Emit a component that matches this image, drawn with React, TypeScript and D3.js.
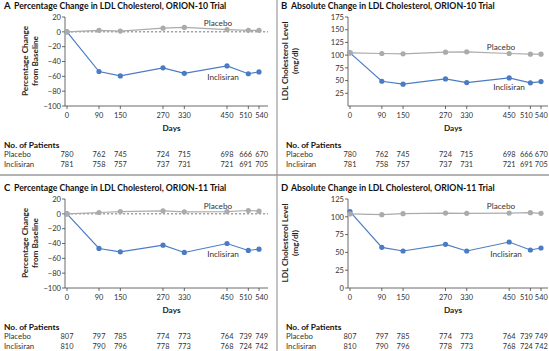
import React from "react";
import * as d3 from "d3";

const days = [0, 90, 150, 270, 330, 450, 510, 540];

const pctPlacebo10 = [0, 2, 1, 5, 6, 3, 2, 2];
const pctInclisiran10 = [0, -53.5, -59.5, -48.5, -56, -46, -56.5, -54];
const absPlacebo10 = [104.5, 103.2, 102.6, 105.8, 106.5, 103.2, 102, 102];
const absInclisiran10 = [104.5, 48.7, 43, 53.2, 46, 55.2, 45.5, 48];

const pctPlacebo11 = [0, 1.8, 3.1, 4, 2.7, 3, 4.5, 3.6];
const pctInclisiran11 = [0, -46.7, -51.2, -42.2, -52.1, -40, -49.4, -47.6];
const absPlacebo11 = [104, 103, 104.4, 105.3, 104.9, 105.3, 105.8, 104.9];
const absInclisiran11 = [107.2, 57.1, 52, 61.3, 52, 64.6, 53.4, 56.2];

const nPlacebo10 = [780, 762, 745, 724, 715, 698, 666, 670];
const nInclisiran10 = [781, 758, 757, 737, 731, 721, 691, 705];
const nPlacebo11 = [807, 797, 785, 774, 773, 764, 739, 749];
const nInclisiran11 = [810, 790, 796, 778, 773, 768, 724, 742];

const pctTicks = [20, 0, -20, -40, -60, -80, -100];
const absTicks10 = [25, 50, 75, 100, 125, 150, 175];
const absTicks11 = [0, 25, 50, 75, 100, 125];

const BLUE = "#4b7cc3";
const GRAY = "#ababab";
const FONT = "Lato, 'Open Sans', sans-serif";

type PanelProps = {
  ox: number;
  oy: number;
  letter: string;
  title: string;
  yLabel: string[];
  yDomain: [number, number];
  yTicks: number[];
  x0: number;
  x1: number;
  axisEnd: number;
  yLabelX: number;
  placebo: number[];
  inclisiran: number[];
  nPlacebo: number[];
  nInclisiran: number[];
  dashedZero: boolean;
  placeboLabel: [number, number];
  inclisiranLabel: [number, number];
};

const fmt = (v: number) => (v < 0 ? "\u2212" + Math.abs(v) : String(v));

function Panel(p: PanelProps) {
  const x = d3.scaleLinear().domain([0, 540]).range([p.x0, p.x1]);
  const y = d3.scaleLinear().domain(p.yDomain).range([106, 17]);
  const line = d3
    .line<number>()
    .x((_, i) => x(days[i]))
    .y((v) => y(v));
  const yTop = y(d3.max(p.yTicks) as number);
  const yBot = 106;
  const leftX = p.x0 - 2;
  const right = p.ox > 0;
  const tx = right ? 11 : 4;
  // small nudge so the crowded last two columns (510, 540) do not collide
  const nudge = (i: number) =>
    i === 6 ? (right ? -4 : -2.6) : i === 7 ? (right ? 0.3 : 2.6) : 0;
  return (
    <g transform={`translate(${p.ox},${p.oy})`} fontFamily={FONT}>
      <text x={right ? 6 : 4} y={9} fontSize={9.5} fontWeight={700} fill="#111">
        {p.letter}
      </text>
      <text x={right ? 16 : 14} y={9} fontSize={8.7} fontWeight={700} fill="#111">
        {p.title}
      </text>
      {p.yLabel.map((t, i) => (
        <text
          key={i}
          transform={`translate(${p.yLabelX + i * 10},61) rotate(-90)`}
          textAnchor="middle"
          fontSize={8.2}
          fontWeight={700}
          fill="#222"
        >
          {t}
        </text>
      ))}
      <line x1={leftX} x2={leftX} y1={yTop} y2={yBot} stroke="#444" strokeWidth={0.8} />
      {p.yTicks.map((t) => (
        <g key={t}>
          <line x1={leftX - 3} x2={leftX} y1={y(t)} y2={y(t)} stroke="#444" strokeWidth={0.8} />
          <text x={leftX - 4} y={y(t) + 2.7} textAnchor="end" fontSize={7.6} fill="#333">
            {fmt(t)}
          </text>
        </g>
      ))}
      <line x1={leftX} x2={p.axisEnd} y1={yBot} y2={yBot} stroke="#444" strokeWidth={0.8} />
      {days.map((d, i) => (
        <g key={d}>
          <line x1={x(d)} x2={x(d)} y1={yBot} y2={yBot + 3} stroke="#444" strokeWidth={0.8} />
          <text x={x(d) + nudge(i)} y={yBot + 12} textAnchor="middle" fontSize={7.4} fill="#333">
            {d}
          </text>
        </g>
      ))}
      <text x={(p.x0 + p.axisEnd) / 2 + 4} y={131} textAnchor="middle" fontSize={8.2} fontWeight={700} fill="#222">
        Days
      </text>
      {p.dashedZero && (
        <line x1={x(0)} x2={p.axisEnd} y1={y(0)} y2={y(0)} stroke="#555" strokeWidth={0.8} strokeDasharray="2.2,1.8" />
      )}
      <path d={line(p.inclisiran) || ""} fill="none" stroke={BLUE} strokeWidth={1.2} />
      {p.inclisiran.map((v, i) => (
        <circle key={i} cx={x(days[i])} cy={y(v)} r={2.6} fill={BLUE} />
      ))}
      <path d={line(p.placebo) || ""} fill="none" stroke={GRAY} strokeWidth={1.2} />
      {p.placebo.map((v, i) => (
        <circle key={i} cx={x(days[i])} cy={y(v)} r={2.6} fill={GRAY} />
      ))}
      <text x={p.placeboLabel[0]} y={p.placeboLabel[1]} textAnchor="middle" fontSize={8.2} fill="#333">
        Placebo
      </text>
      <text x={p.inclisiranLabel[0]} y={p.inclisiranLabel[1]} textAnchor="middle" fontSize={8.2} fill="#333">
        Inclisiran
      </text>
      <text x={tx} y={147.5} fontSize={8.4} fontWeight={700} fill="#111">
        No. of Patients
      </text>
      <text x={tx} y={157} fontSize={7.8} fill="#333">
        Placebo
      </text>
      <text x={tx} y={166.5} fontSize={7.8} fill="#333">
        Inclisiran
      </text>
      {p.nPlacebo.map((n, i) => (
        <text key={"p" + i} x={x(days[i]) + nudge(i)} y={157} textAnchor="middle" fontSize={7.4} fill="#333">
          {n}
        </text>
      ))}
      {p.nInclisiran.map((n, i) => (
        <text key={"i" + i} x={x(days[i]) + nudge(i)} y={166.5} textAnchor="middle" fontSize={7.4} fill="#333">
          {n}
        </text>
      ))}
    </g>
  );
}

export default function App() {
  const R = 275;
  return (
    <svg
      width={549}
      height={351}
      style={{ position: "absolute", left: 0, top: 0, background: "#fff" }}
    >
      <rect x={0} y={0} width={549} height={351} fill="#fff" />
      <Panel
        ox={0}
        oy={0}
        letter="A"
        title="Percentage Change in LDL Cholesterol, ORION-10 Trial"
        yLabel={["Percentage Change", "from Baseline"]}
        yDomain={[-100, 20]}
        yTicks={pctTicks}
        x0={67}
        x1={259}
        axisEnd={268}
        yLabelX={28}
        placebo={pctPlacebo10}
        inclisiran={pctInclisiran10}
        nPlacebo={nPlacebo10}
        nInclisiran={nInclisiran10}
        dashedZero={true}
        placeboLabel={[218, 26]}
        inclisiranLabel={[223, 80]}
      />
      <Panel
        ox={R}
        oy={0}
        letter="B"
        title="Absolute Change in LDL Cholesterol, ORION-10 Trial"
        yLabel={["LDL Cholesterol Level", "(mg/dl)"]}
        yDomain={[0, 175]}
        yTicks={absTicks10}
        x0={350 - R}
        x1={541 - R}
        axisEnd={548 - R}
        yLabelX={288 - R}
        placebo={absPlacebo10}
        inclisiran={absInclisiran10}
        nPlacebo={nPlacebo10}
        nInclisiran={nInclisiran10}
        dashedZero={false}
        placeboLabel={[501 - R, 49.5]}
        inclisiranLabel={[509 - R, 89.5]}
      />
      <Panel
        ox={0}
        oy={182}
        letter="C"
        title="Percentage Change in LDL Cholesterol, ORION-11 Trial"
        yLabel={["Percentage Change", "from Baseline"]}
        yDomain={[-100, 20]}
        yTicks={pctTicks}
        x0={67}
        x1={259}
        axisEnd={268}
        yLabelX={28}
        placebo={pctPlacebo11}
        inclisiran={pctInclisiran11}
        nPlacebo={nPlacebo11}
        nInclisiran={nInclisiran11}
        dashedZero={true}
        placeboLabel={[218, 26.5]}
        inclisiranLabel={[223, 75]}
      />
      <Panel
        ox={R}
        oy={182}
        letter="D"
        title="Absolute Change in LDL Cholesterol, ORION-11 Trial"
        yLabel={["LDL Cholesterol Level", "(mg/dl)"]}
        yDomain={[0, 125]}
        yTicks={absTicks11}
        x0={350 - R}
        x1={541 - R}
        axisEnd={548 - R}
        yLabelX={288 - R}
        placebo={absPlacebo11}
        inclisiran={absInclisiran11}
        nPlacebo={nPlacebo11}
        nInclisiran={nInclisiran11}
        dashedZero={false}
        placeboLabel={[501 - R, 26.5]}
        inclisiranLabel={[506 - R, 74.5]}
      />
      <line x1={0} x2={549} y1={175} y2={175} stroke="#9a9a9a" strokeWidth={1.6} />
      <line x1={277} x2={277} y1={0} y2={351} stroke="#9a9a9a" strokeWidth={1.2} />
    </svg>
  );
}
